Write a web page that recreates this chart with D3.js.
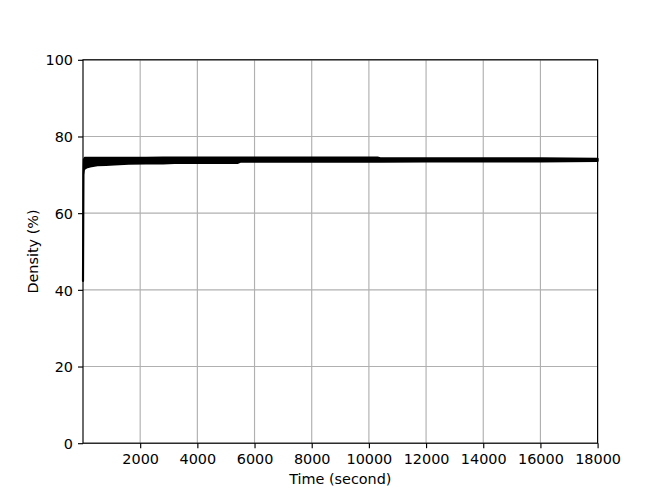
<!DOCTYPE html>
<html>
<head>
<meta charset="utf-8">
<script src="https://cdn.jsdelivr.net/npm/d3@7"></script>
<style>
body { margin: 0; background: #fff; }
text { font-family: "DejaVu Sans", sans-serif; font-size: 14.4px; fill: #000; }
.gridLine { stroke: #b0b0b0; stroke-width: 1.15; }
.spine { stroke: #000; stroke-width: 1.15; fill: none; }
.tick line { stroke: #000; stroke-width: 1.15; }
.band { fill: #000; stroke: #000; stroke-width: 2.16; stroke-linejoin: round; }
</style>
</head>
<body>
<script>
const width = 664
const height = 498
const margin = {left: 83, right: 66.4, top: 59.8, bottom: 54.8}

const times = [0, 15, 30, 60, 120, 250, 500, 800, 1100, 1600, 2200, 2800, 3200, 4000, 5000, 5400, 5500, 7000, 8500, 10000, 10300, 10400, 12000, 14000, 16000, 18000]
const upperDensity = [42.3, 70.0, 74.0, 74.4, 74.4, 74.4, 74.4, 74.4, 74.4, 74.4, 74.4, 74.5, 74.5, 74.5, 74.5, 74.5, 74.5, 74.5, 74.5, 74.5, 74.5, 74.3, 74.3, 74.3, 74.3, 74.2]
const lowerDensity = [42.3, 70.0, 71.3, 71.6, 71.9, 72.2, 72.5, 72.6, 72.7, 72.9, 73.0, 73.0, 73.1, 73.1, 73.1, 73.1, 73.4, 73.4, 73.4, 73.4, 73.4, 73.4, 73.5, 73.5, 73.5, 73.6]
const xTicks = [2000, 4000, 6000, 8000, 10000, 12000, 14000, 16000, 18000]
const yTicks = [0, 20, 40, 60, 80, 100]

const svg = d3.select("body")
    .append("svg")
    .attr("width", width)
    .attr("height", height)

const x = d3.scaleLinear().domain([0, 18000]).range([margin.left, width - margin.right])
const y = d3.scaleLinear().domain([0, 100]).range([height - margin.bottom, margin.top])

// grid
svg.append("g").selectAll("line").data(xTicks).join("line")
    .attr("class", "gridLine")
    .attr("x1", d => x(d)).attr("x2", d => x(d))
    .attr("y1", y(0)).attr("y2", y(100))
svg.append("g").selectAll("line").data(yTicks).join("line")
    .attr("class", "gridLine")
    .attr("x1", x(0)).attr("x2", x(18000))
    .attr("y1", d => y(d)).attr("y2", d => y(d))

// density band
let rows = times.map((t, i) => ({t: t, hi: upperDensity[i], lo: lowerDensity[i]}))
let area = d3.area()
    .x(d => x(d.t))
    .y0(d => y(d.lo))
    .y1(d => y(d.hi))
svg.append("path")
    .datum(rows)
    .attr("class", "band")
    .attr("d", area)

// axes
let xAxis = svg.append("g")
    .attr("transform", `translate(0,${y(0)})`)
    .call(d3.axisBottom(x).tickValues(xTicks).tickSize(5).tickPadding(5).tickFormat(d3.format("d")))
let yAxis = svg.append("g")
    .attr("transform", `translate(${x(0)},0)`)
    .call(d3.axisLeft(y).tickValues(yTicks).tickSize(5).tickPadding(5))
for (let ax of [xAxis, yAxis]) {
    ax.select(".domain").remove()
    ax.attr("font-family", null).attr("font-size", null)
}
xAxis.selectAll("text").attr("dy", "0.76em")
yAxis.selectAll("text").attr("dy", "0.36em")

svg.append("rect")
    .attr("class", "spine")
    .attr("x", x(0)).attr("y", y(100))
    .attr("width", x(18000) - x(0))
    .attr("height", y(0) - y(100))

svg.append("text")
    .attr("x", (x(0) + x(18000)) / 2)
    .attr("y", 484)
    .attr("text-anchor", "middle")
    .text("Time (second)")
svg.append("text")
    .attr("transform", `translate(37.5,${(y(0) + y(100)) / 2}) rotate(-90)`)
    .attr("text-anchor", "middle")
    .text("Density (%)")
</script>
</body>
</html>
